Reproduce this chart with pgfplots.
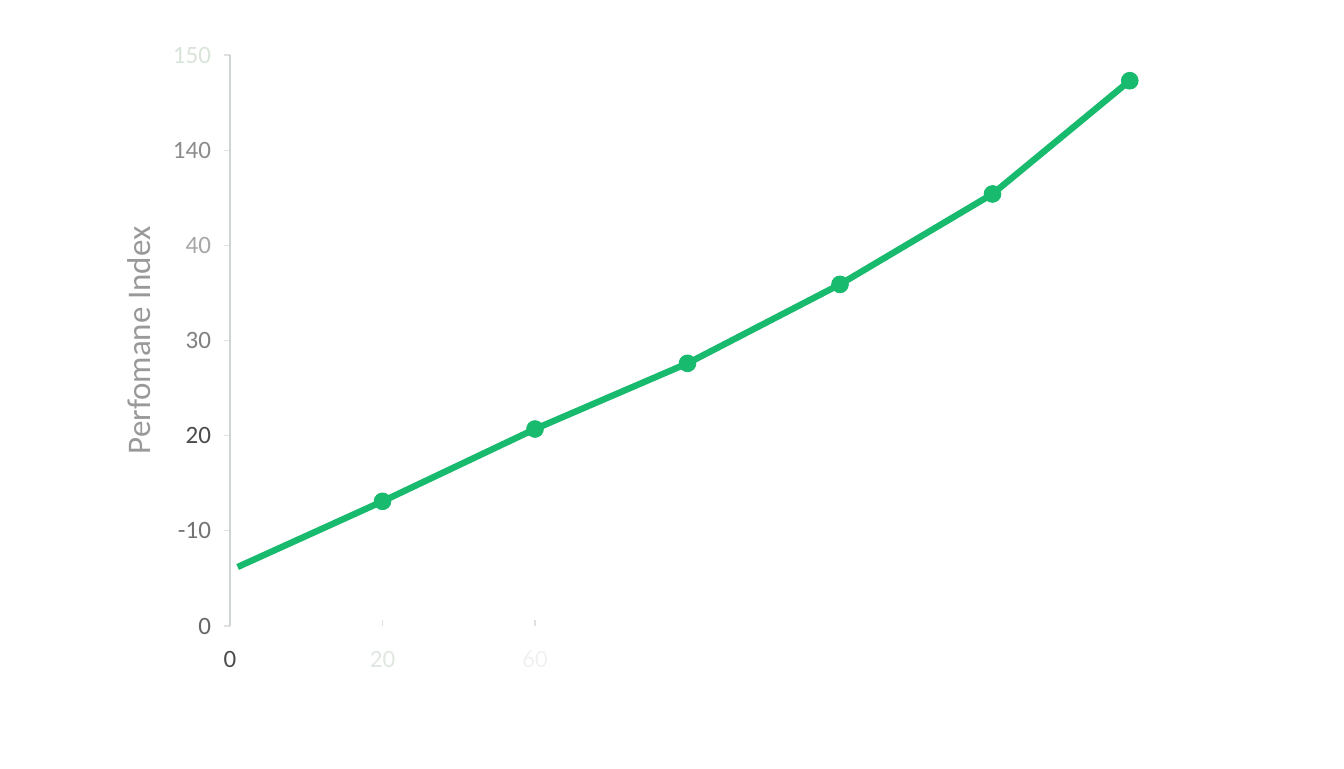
\documentclass[border=0pt]{standalone}
\usepackage{fontspec}
\setmainfont{Carlito}
\usepackage{pgfplots}
\pgfplotsset{compat=1.18}

\definecolor{linegreen}{RGB}{24,186,110}
\definecolor{axisgray}{RGB}{205,215,210}

\begin{document}
\begin{tikzpicture}
  % page frame: 1344 x 768 px at 0.5pt per px, axis box at the origin
  \useasboundingbox (-115pt,-71pt) rectangle (557pt,313pt);
  \begin{axis}[
      scale only axis,
      width  = 457.5pt,
      height = 285.5pt,
      xmin = 0, xmax = 120,
      ymin = 0, ymax = 6,
      axis y line* = left,
      axis x line* = bottom,
      y axis line style = {draw=axisgray, line width=0.8pt},
      x axis line style = {draw=white},
      xtick = {0,20,40},
      xticklabels = {
          \textcolor{black!70}{0},
          \textcolor{green!20!black!12}{20},
          \textcolor{green!15!black!6}{60}},
      ytick = {0,1,2,3,4,5,6},
      yticklabels = {
          \textcolor{black!60}{0},
          \textcolor{black!55}{-10},
          \textcolor{black!70}{20},
          \textcolor{black!50}{30},
          \textcolor{black!35}{40},
          \textcolor{black!45}{140},
          \textcolor{green!30!black!15}{150}},
      tick style = {draw=black!12, line width=0.6pt},
      major tick length = 3pt,
      ytick align = outside,
      xtick align = inside,
      x tick label style = {yshift=-9pt},
      y tick label style = {xshift=-3pt},
      tick label style = {font=\fontsize{12.5}{14}\selectfont},
      /pgf/number format/assume math mode=true,
      ylabel = {Perfomane Index},
      ylabel style = {at={(axis description cs:-0.079,0.5)}, anchor=south,
          font=\fontsize{16.5}{18}\selectfont, text=black!40},
      clip = false,
  ]
    \addplot[color=linegreen, line width=3.2pt, mark=*, mark size=4.2pt,
             mark indices={2,3,4,5,6,7},
             mark options={fill=linegreen, draw=linegreen, line width=0.4pt}]
      coordinates {(1,0.62) (20,1.31) (40,2.07) (60,2.76) (80,3.59) (100,4.54) (118,5.73)};
  \end{axis}
\end{tikzpicture}
\end{document}
